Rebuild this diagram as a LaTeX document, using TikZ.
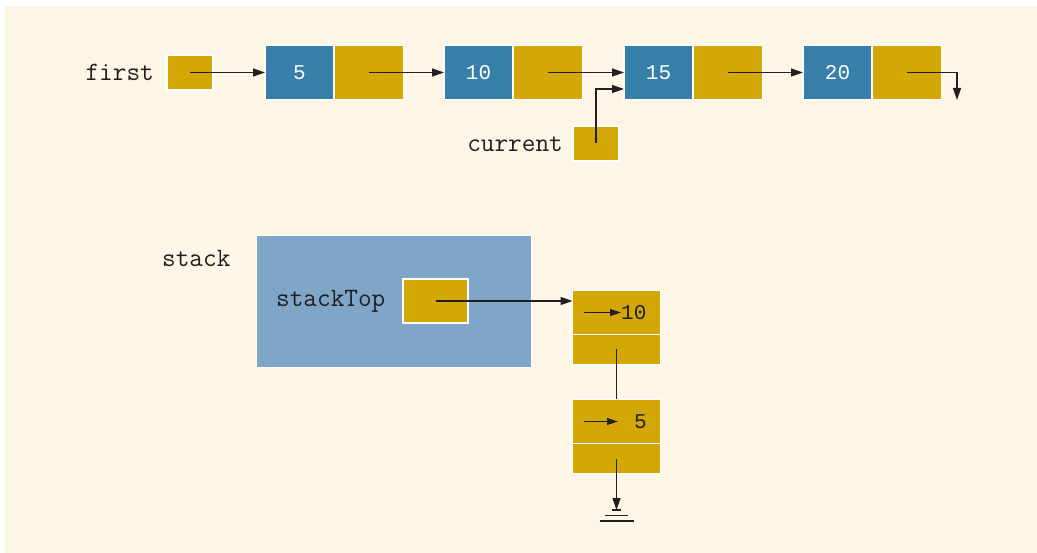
\documentclass[tikz,border=0pt]{standalone}
\usepackage{fontspec}
\newfontfamily\valfont{Liberation Mono}
\usetikzlibrary{arrows.meta}
\definecolor{cream}{HTML}{FDF5E6}
\definecolor{cellblue}{HTML}{367FA9}
\definecolor{cellgold}{HTML}{D3A806}
\definecolor{stackblue}{HTML}{7FA6C8}
\definecolor{ink}{HTML}{231F20}
\tikzset{
  cell/.style={draw=white, line width=1.2pt, inner sep=0pt, outer sep=0pt},
  bluecell/.style={cell, fill=cellblue, minimum width=69pt, minimum height=54pt, text=white, font=\valfont\fontsize{21}{24}\selectfont},
  goldcell/.style={cell, fill=cellgold, minimum width=69pt, minimum height=54pt},
  ptr/.style={cell, fill=cellgold, minimum width=46pt, minimum height=35pt},
  lbl/.style={inner sep=0pt, text=ink, font=\ttfamily\fontsize{26.5}{28}\selectfont},
  val/.style={inner sep=0pt, font=\valfont\fontsize{21}{24}\selectfont},
  link/.style={draw=ink, line width=1.3pt, -{Triangle[length=12pt,width=8pt]}},
  plain/.style={draw=ink, line width=1.3pt},
}
\begin{document}
\begin{tikzpicture}[x=1pt, y=-1pt]
\useasboundingbox (0,0) rectangle (1037,553);
\fill[cream] (5,6) rectangle (1037,553);
% top list
\node[lbl, anchor=east] (firstlbl) at (154,72) {first};
\node[ptr] (first) at (190,72.5) {};
\node[bluecell] (n1b) at (299.5,72.5) {5};
\node[goldcell] (n1g) at (369,72.5) {};
\node[bluecell] (n2b) at (478.5,72.5) {10};
\node[goldcell] (n2g) at (548,72.5) {};
\node[bluecell] (n3b) at (658.5,72.5) {15};
\node[goldcell] (n3g) at (728,72.5) {};
\node[bluecell] (n4b) at (837.5,72.5) {20};
\node[goldcell] (n4g) at (907,72.5) {};
\coordinate (nil1) at (957,100);
\draw[link] (first.center) -- (n1b.west);
\draw[link] (n1g.center) -- (n2b.west);
\draw[link] (n2g.center) -- (n3b.west);
\draw[link] (n3g.center) -- (n4b.west);
\draw[link] (n4g.center) -| (nil1);
% current
\node[lbl, anchor=east] (curlbl) at (563,144) {current};
\node[ptr] (cur) at (596,143.5) {};
\draw[link] (cur.center) |- ([yshift=-16.5pt]n3b.west);
% stack
\node[lbl, anchor=west] (stacklbl) at (162,258) {stack};
\node[cell, line width=0.8pt, fill=stackblue, minimum width=275pt, minimum height=132pt] (stack) at (393.5,301) {};
\node[lbl, anchor=west] (toplbl) at (276,301) {stackTop};
\node[cell, fill=cellgold, minimum width=65pt, minimum height=44pt] (top) at (435.5,301) {};
\node[cell, fill=cellgold, minimum width=88pt, minimum height=44pt] (s1a) at (616.5,312.5) {};
\node[cell, fill=cellgold, minimum width=88pt, minimum height=30pt] (s1b) at (616.5,349.5) {};
\node[cell, fill=cellgold, minimum width=88pt, minimum height=44pt] (s2a) at (616.5,421.5) {};
\node[cell, fill=cellgold, minimum width=88pt, minimum height=30pt] (s2b) at (616.5,458.5) {};
\draw[link] (top.center) -- (top.center -| s1a.west);
\node[val, text=ink, anchor=west] (v10) at (621,313) {10};
\node[val, text=ink, anchor=west] (v5) at (634,422) {5};
\coordinate (a1) at (584,312.5);
\coordinate (a2) at (584,421.5);
\draw[link, line width=1.1pt, -{Triangle[length=11pt,width=7pt]}] (a1) -- (a1 -| v10.west);
\draw[link, line width=1.1pt, -{Triangle[length=11pt,width=7pt]}] (a2) -- (618,421.5) coordinate (a2e);
\draw[plain] (s1b.center) -- (s2a.north);
\coordinate (gnd) at (616.5,510);
\draw[link] (s2b.center) -- (gnd);
\draw[plain] ([xshift=-4.5pt]gnd) -- ([xshift=4.5pt]gnd);
\draw[plain] ([xshift=-11.5pt,yshift=-5.5pt]gnd) -- ([xshift=11.5pt,yshift=-5.5pt]gnd);
\draw[plain] ([xshift=-17pt,yshift=-11pt]gnd) -- ([xshift=17pt,yshift=-11pt]gnd);
\end{tikzpicture}
\end{document}
